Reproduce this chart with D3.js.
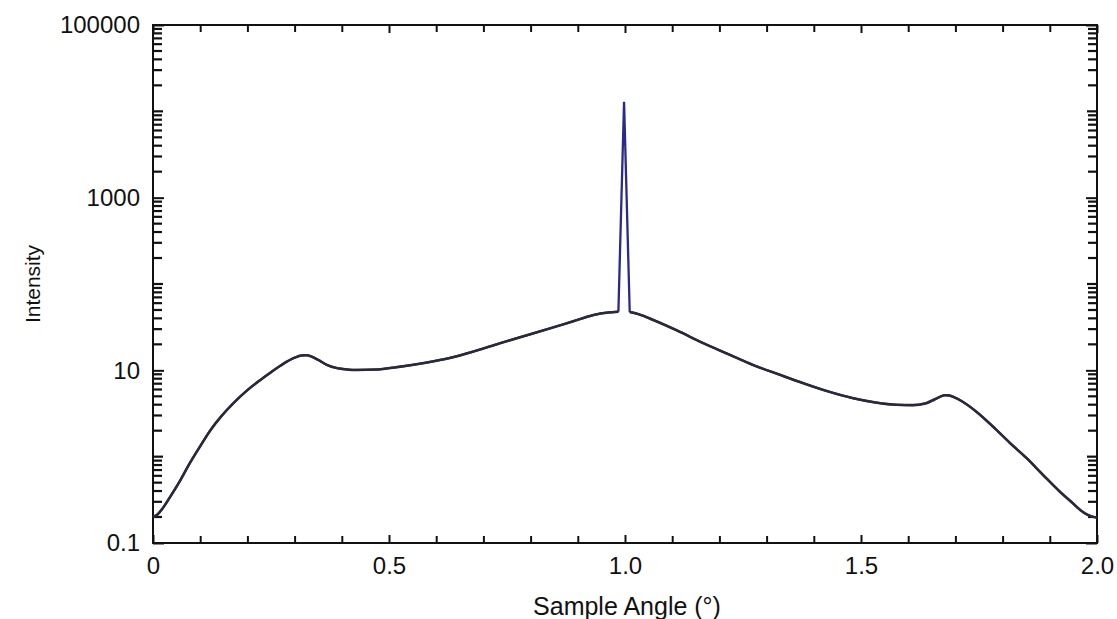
<!DOCTYPE html>
<html><head><meta charset="utf-8">
<script src="https://cdn.jsdelivr.net/npm/d3@7"></script>
<style>
body{margin:0;background:#fff}
svg{display:block}
text{font-family:"Liberation Sans",Arial,sans-serif;fill:#111}
</style>
</head><body>
<svg id="c" width="1117" height="619"></svg>
<script>
// ---- data ----
const angle = [0.000,0.010,0.020,0.036,0.055,0.078,0.100,0.121,0.145,0.170,0.200,0.227,0.250,0.276,0.300,0.315,0.325,0.335,0.350,0.368,0.390,0.410,0.432,0.470,0.523,0.580,0.629,0.680,0.735,0.790,0.841,0.890,0.933,0.965,0.986,0.998,1.010,1.030,1.060,1.110,1.166,1.220,1.272,1.325,1.378,1.430,1.484,1.530,1.576,1.610,1.639,1.655,1.668,1.678,1.688,1.698,1.710,1.745,1.780,1.815,1.851,1.885,1.922,1.950,1.965,1.978,1.990,2.000];
const measured = [0.20,0.215,0.25,0.34,0.50,0.84,1.32,2.0,2.95,4.15,5.9,7.7,9.5,11.9,14.0,14.9,15.0,14.5,13.2,11.6,10.6,10.25,10.1,10.2,11.0,12.3,13.9,16.6,20.6,25.3,30.6,37.0,43.7,46.8,47.8,12900,47.5,44.5,38.3,29.0,20.6,15.3,11.5,9.0,7.08,5.7,4.74,4.25,3.97,3.93,4.15,4.55,4.95,5.15,5.1,4.85,4.5,3.3,2.22,1.45,0.96,0.62,0.39,0.285,0.24,0.215,0.202,0.198];
const fitted = [0.20,0.215,0.25,0.34,0.50,0.84,1.32,2.0,2.95,4.15,5.9,7.7,9.5,11.9,14.0,14.9,15.0,14.5,13.2,11.6,10.6,10.25,10.1,10.2,11.0,12.3,13.9,16.6,20.6,25.3,30.6,37.0,43.7,46.8,47.8,null,47.5,44.5,38.3,29.0,20.6,15.3,11.5,9.0,7.08,5.7,4.74,4.25,4.0,3.98,4.2,4.6,4.95,5.15,5.1,4.85,4.5,3.3,2.22,1.45,0.96,0.62,0.39,0.285,0.24,0.215,0.202,0.198];
const xLabelTicks = [0, 0.5, 1.0, 1.5, 2.0];
const xLabelText = ["0", "0.5", "1.0", "1.5", "2.0"];
const xMinorTicks = [0.1,0.2,0.3,0.4,0.6,0.7,0.8,0.9,1.1,1.2,1.3,1.4,1.6,1.7,1.8,1.9];
const yLabelTicks = [0.1, 10, 1000, 100000];
const yLabelText = ["0.1", "10", "1000", "100000"];
const yDecadeTicks = [1, 100, 10000];
const yMinorMultipliers = [2, 3, 4, 5, 6, 7, 8, 9];
const yDecades = [0.1, 1, 10, 100, 1000, 10000];
const xTitle = "Sample Angle (°)";
const yTitle = "Intensity";

// ---- layout ----
const L = 153, R = 1097, T = 25, B = 543;
const svg = d3.select("#c");
const x = d3.scaleLinear().domain([0, 2]).range([L, R]);
const y = d3.scaleLog().domain([0.1, 100000]).range([B, T]);

const yMinor = [];
yDecades.forEach(dec => yMinorMultipliers.forEach(k => yMinor.push(k * dec)));

function styleAxis(g) {
  g.select(".domain").remove();
  g.selectAll(".tick line").attr("stroke", "#111").attr("stroke-width", 2);
  g.selectAll("text").style("font-size", "24px").attr("fill", "#111");
}

// bottom
svg.append("g").attr("transform", `translate(0,${B})`)
  .call(d3.axisBottom(x).tickValues(xLabelTicks).tickSizeInner(-8).tickSizeOuter(0).tickPadding(14)
    .tickFormat((d, i) => xLabelText[i])).call(styleAxis);
svg.append("g").attr("transform", `translate(0,${B})`)
  .call(d3.axisBottom(x).tickValues(xMinorTicks).tickSizeInner(-7).tickSizeOuter(0).tickFormat(() => "")).call(styleAxis);
// top
svg.append("g").attr("transform", `translate(0,${T})`)
  .call(d3.axisTop(x).tickValues(xLabelTicks).tickSizeInner(-8).tickSizeOuter(0).tickFormat(() => "")).call(styleAxis);
svg.append("g").attr("transform", `translate(0,${T})`)
  .call(d3.axisTop(x).tickValues(xMinorTicks).tickSizeInner(-7).tickSizeOuter(0).tickFormat(() => "")).call(styleAxis);
// left
svg.append("g").attr("transform", `translate(${L},0)`)
  .call(d3.axisLeft(y).tickValues(yLabelTicks).tickSizeInner(-11).tickSizeOuter(0).tickPadding(13)
    .tickFormat((d, i) => yLabelText[i])).call(styleAxis);
// right
svg.append("g").attr("transform", `translate(${R},0)`)
  .call(d3.axisRight(y).tickValues(yLabelTicks).tickSizeInner(-11).tickSizeOuter(0).tickFormat(() => "")).call(styleAxis);

// y minor + unlabeled decade ticks (both sides), drawn as small bars
const yTickVals = yDecadeTicks.concat(yMinor);
const tickLen = d => yDecadeTicks.includes(d) ? 10 : 9;
const tg = svg.append("g").attr("fill", "#111");
tg.selectAll("rect.l").data(yTickVals).join("rect").attr("class", "l")
  .attr("x", L).attr("y", d => y(d) - 1.1).attr("width", tickLen).attr("height", 2.2);
tg.selectAll("rect.r").data(yTickVals).join("rect").attr("class", "r")
  .attr("x", d => R - tickLen(d)).attr("y", d => y(d) - 1.1)
  .attr("width", tickLen).attr("height", 2.2);

// frame
svg.append("rect").attr("x", L).attr("y", T).attr("width", R - L).attr("height", B - T)
  .attr("fill", "none").attr("stroke", "#111").attr("stroke-width", 2);

// series
const measuredData = angle.map((a, i) => ({a, v: measured[i]}));
const fittedData = angle.map((a, i) => ({a, v: fitted[i]}));
const peakIdx = measured.indexOf(d3.max(measured));
const smooth = d3.line().x(d => x(d.a)).y(d => y(d.v)).defined(d => d.v != null).curve(d3.curveMonotoneX);
const straight = d3.line().x(d => x(d.a)).y(d => y(d.v));

// measured: smooth except for the sharp specular spike
const measLeft = measuredData.slice(0, peakIdx);
const measSpike = measuredData.slice(peakIdx - 1, peakIdx + 2);
const measRight = measuredData.slice(peakIdx + 1);
const blue = svg.append("g").attr("fill", "none").attr("stroke", "#2a2a8c").attr("stroke-width", 2.3);
blue.append("path").attr("d", smooth(measLeft)).attr("stroke-linejoin", "round");
blue.append("path").attr("d", smooth(measRight)).attr("stroke-linejoin", "round");
blue.append("path").attr("d", straight(measSpike)).attr("stroke-linejoin", "miter").attr("stroke-miterlimit", 30);

svg.append("path").datum(fittedData).attr("d", smooth)
  .attr("fill", "none").attr("stroke", "#2a2a36").attr("stroke-width", 2.5).attr("stroke-linejoin", "round");

// titles
svg.append("text").attr("x", (L + R) / 2 + 2).attr("y", 615).attr("text-anchor", "middle")
  .style("font-size", "25px").text(xTitle);
svg.append("text").attr("transform", `translate(40,${(T + B) / 2}) rotate(-90)`).attr("text-anchor", "middle")
  .style("font-size", "21px").text(yTitle);
</script>
</body></html>
